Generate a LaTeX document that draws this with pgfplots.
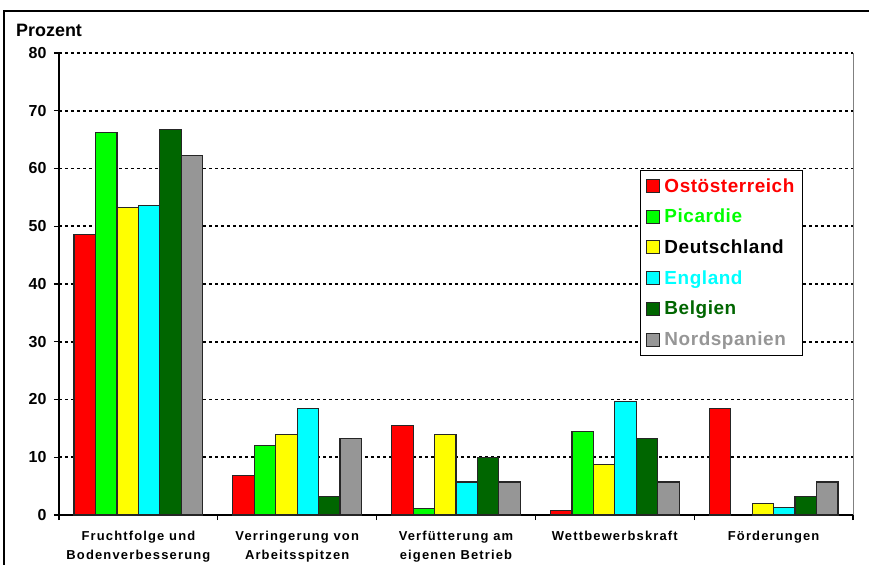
\documentclass[border=0pt]{standalone}
\usepackage{fontspec}
\setmainfont{Liberation Sans}
\newfontfamily\spacedfont[LetterSpace=9]{Liberation Sans}
\newfontfamily\legfont[LetterSpace=3]{Liberation Sans}
\usepackage{pgfplots}
\pgfplotsset{compat=1.18}
\usetikzlibrary{calc}
\definecolor{cRed}{HTML}{FF0000}
\definecolor{cGreen}{HTML}{00FF00}
\definecolor{cYellow}{HTML}{FFFF00}
\definecolor{cCyan}{HTML}{00FFFF}
\definecolor{cDark}{HTML}{006600}
\definecolor{cGray}{HTML}{969696}
\begin{document}
\begin{tikzpicture}
\begin{axis}[
  scale only axis, width=794bp, height=462bp,
  xmin=-0.5, xmax=4.5, ymin=0, ymax=80,
  ybar=0pt, bar width=0.135,
  ytick={0,10,...,80},
  xtick={0,1,2,3,4},
  xticklabels={Fruchtfolge und\\Bodenverbesserung, Verringerung von\\Arbeitsspitzen, Verfütterung am\\eigenen Betrieb, Wettbewerbskraft, Förderungen},
  minor xtick={-0.5,0.5,1.5,2.5,3.5,4.5},
  xtick style={draw=none},
  minor x tick style={draw=black, line width=1.2bp},
  minor tick length=5bp,
  major tick length=5bp,
  tick align=outside,
  ytick pos=left,
  xtick pos=bottom,
  y tick style={black, line width=1.2bp},
  axis x line*=bottom, axis y line*=left,
  axis line style={-, black, line width=1.5bp},
  ymajorgrids,
  grid style={black, line width=1.8bp, dash pattern=on 3bp off 3bp},
  /pgf/number format/assume math mode=true,
  yticklabel style={font=\bfseries\fontsize{16}{16}\selectfont, xshift=-4bp},
  xticklabel style={align=center, font=\spacedfont\bfseries\fontsize{13}{19}\selectfont, yshift=-8bp},
  legend style={at={(0.7317,0.7468)}, anchor=north west, draw=black, line width=1bp, fill=white,
    font=\legfont\bfseries\fontsize{19}{21}\selectfont, row sep=11.5bp, inner xsep=6bp, inner ysep=6bp,
    cells={anchor=west}, /tikz/every odd column/.append style={column sep=2bp}},
  legend image code/.code={\draw[#1, line width=1bp] (0bp,-6.5bp) rectangle (13bp,6.5bp);},
  every axis plot/.append style={draw=black!85, line width=1.2bp},
  clip=false,
]
\addplot[fill=cRed] coordinates {(0,48.6) (1,6.8) (2,15.5) (3,0.8) (4,18.4)};
\addlegendentry{\textcolor{cRed}{Ostösterreich}}
\addplot[fill=cGreen] coordinates {(0,66.3) (1,12.0) (2,1.1) (3,14.4)};
\addlegendentry{\textcolor{cGreen}{Picardie}}
\addplot[fill=cYellow] coordinates {(0,53.2) (1,14.0) (2,14.0) (3,8.7) (4,2.0)};
\addlegendentry{\textcolor{black}{Deutschland}}
\addplot[fill=cCyan] coordinates {(0,53.6) (1,18.4) (2,5.7) (3,19.7) (4,1.3)};
\addlegendentry{\textcolor{cCyan}{England}}
\addplot[fill=cDark] coordinates {(0,66.7) (1,3.2) (2,10.0) (3,13.3) (4,3.2)};
\addlegendentry{\textcolor{cDark}{Belgien}}
\addplot[fill=cGray] coordinates {(0,62.3) (1,13.2) (2,5.7) (3,5.7) (4,5.7)};
\addlegendentry{\textcolor{cGray}{Nordspanien}}
\draw[gray, line width=1bp] (rel axis cs:1,0) -- (rel axis cs:1,1);
\coordinate (O) at (rel axis cs:0,0);
\end{axis}
\pgfresetboundingbox
\path[use as bounding box] ($(O)+(-59bp,-50bp)$) rectangle ($(O)+(810bp,515bp)$);
\draw[line width=1.2bp] ($(O)+(-55bp,-80bp)$) -- ($(O)+(-55bp,504bp)$) -- ($(O)+(850bp,504bp)$);
\node[anchor=west,inner sep=0pt,font=\bfseries\fontsize{18}{20}\selectfont] at ($(O)+(-43bp,485bp)$) {Prozent};
\end{tikzpicture}
\end{document}
